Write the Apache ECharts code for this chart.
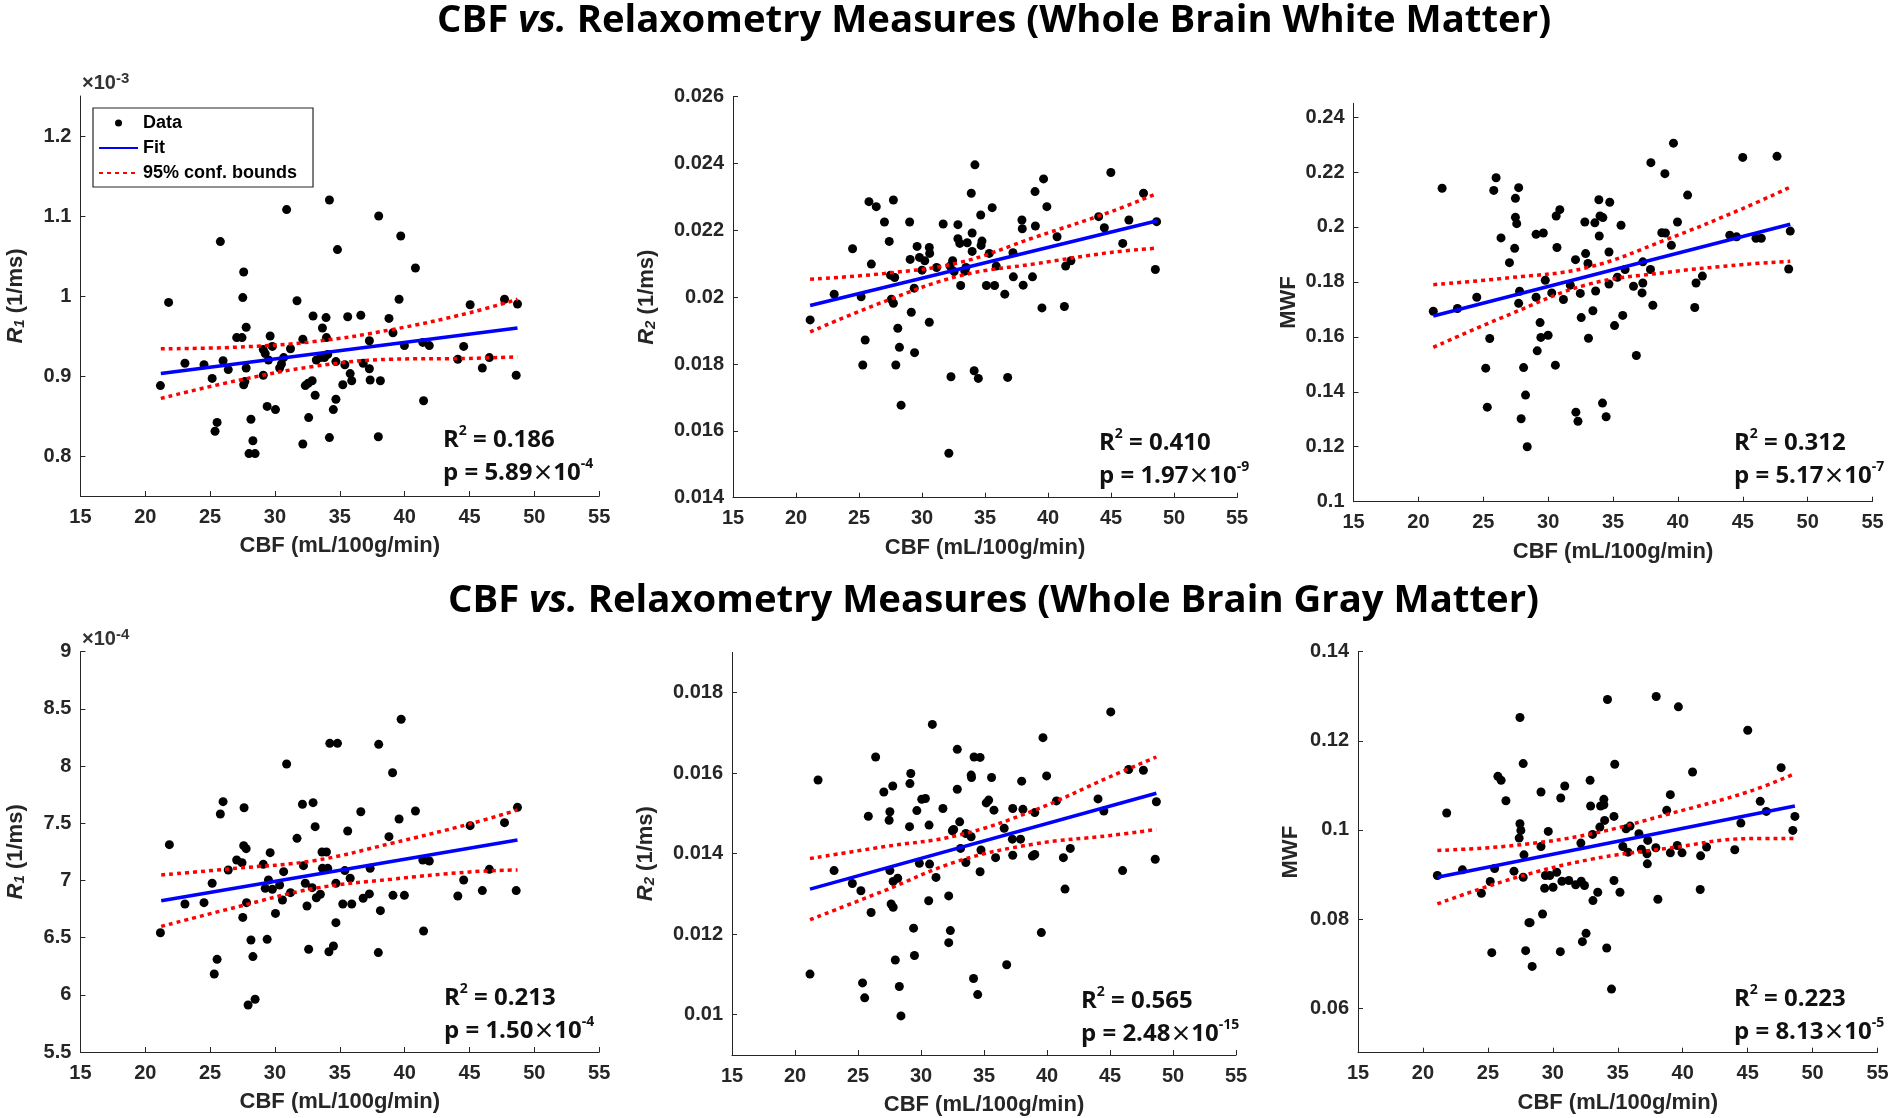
<!DOCTYPE html>
<html><head><meta charset="utf-8">
<script src="https://cdn.jsdelivr.net/npm/echarts@6.0.0/dist/echarts.min.js"></script>
<style>html,body{margin:0;padding:0;background:#fff}#c{width:1892px;height:1118px}</style>
</head><body><div id="c"></div><script>
// ---------- DATA ----------
const xTicks = [15, 20, 25, 30, 35, 40, 45, 50, 55];

// White matter R1 (x10^-3 1/ms)
const wmR1 = [[21.17,0.888],[21.8,0.992],[23.06,0.916],[24.53,0.914],[25.16,0.897],[25.38,0.831],[25.54,0.842],[25.79,1.068],[26.0,0.919],[26.4,0.908],[27.05,0.948],[27.46,0.948],[27.52,0.998],[27.59,1.03],[27.59,0.889],[27.68,0.893],[27.78,0.961],[27.78,0.91],[28.0,0.803],[28.15,0.846],[28.3,0.819],[28.47,0.803],[29.1,0.901],[29.1,0.933],[29.25,0.928],[29.4,0.862],[29.5,0.92],[29.63,0.95],[29.8,0.937],[30.04,0.858],[30.36,0.91],[30.5,0.915],[30.67,0.923],[30.9,1.108],[31.2,0.934],[31.7,0.994],[32.15,0.815],[32.15,0.946],[32.34,0.888],[32.56,0.891],[32.6,0.848],[32.87,0.894],[32.94,0.975],[33.1,0.876],[33.19,0.92],[33.5,0.923],[33.66,0.96],[33.82,0.923],[33.94,0.973],[33.97,0.948],[34.07,0.927],[34.2,0.823],[34.2,1.12],[34.5,0.858],[34.7,0.871],[34.7,0.918],[34.82,1.058],[35.23,0.889],[35.39,0.914],[35.61,0.974],[35.8,0.903],[35.92,0.894],[36.62,0.976],[36.8,0.916],[37.28,0.944],[37.28,0.909],[37.34,0.895],[37.97,0.824],[38.0,1.1],[38.13,0.894],[38.79,0.972],[39.1,0.954],[39.57,0.996],[39.7,1.075],[39.98,0.938],[40.83,1.035],[41.4,0.942],[41.46,0.869],[41.9,0.938],[44.1,0.921],[44.55,0.937],[45.05,0.989],[45.99,0.91],[46.53,0.923],[47.7,0.996],[48.6,0.901],[48.7,0.99]];
const wmR1Fit = [[21.2,0.903],[48.7,0.960]];
const wmR1Up = [[21.2,0.934],[27,0.936],[33,0.943],[39,0.958],[45,0.979],[48.7,0.996]];
const wmR1Lo = [[21.2,0.872],[27,0.894],[33,0.912],[39,0.921],[45,0.922],[48.7,0.924]];
const wmR1Ticks = [0.8, 0.9, 1.0, 1.1, 1.2];

// White matter R2
const wmR2 = [[21.12,0.01932],[23.03,0.02009],[24.49,0.02145],[25.17,0.02001],[25.3,0.01797],[25.49,0.01872],[25.79,0.02286],[25.98,0.02099],[26.37,0.02271],[27.02,0.02225],[27.4,0.02167],[27.5,0.02066],[27.57,0.01994],[27.73,0.02291],[27.73,0.01982],[27.83,0.02059],[27.92,0.01797],[28.08,0.01907],[28.21,0.0185],[28.34,0.01677],[29.02,0.02225],[29.06,0.02113],[29.15,0.01955],[29.38,0.02027],[29.41,0.01834],[29.61,0.02152],[29.8,0.02119],[30.0,0.02081],[30.22,0.02109],[30.58,0.02149],[30.61,0.02131],[30.58,0.01925],[31.16,0.02089],[31.68,0.02219],[32.13,0.01533],[32.23,0.02093],[32.3,0.01762],[32.43,0.02109],[32.55,0.02077],[32.85,0.02217],[32.85,0.02175],[33.0,0.02161],[33.07,0.02035],[33.4,0.02078],[33.49,0.02089],[33.59,0.02163],[33.91,0.02311],[33.98,0.02192],[33.98,0.02137],[34.14,0.0178],[34.2,0.02396],[34.47,0.01757],[34.66,0.02246],[34.69,0.02155],[34.76,0.02168],[35.11,0.02035],[35.34,0.02131],[35.57,0.02268],[35.76,0.02035],[35.89,0.02093],[36.57,0.02009],[36.8,0.0176],[37.22,0.02133],[37.25,0.02061],[37.93,0.02231],[37.96,0.02205],[38.03,0.02036],[38.77,0.02061],[38.97,0.02316],[39.0,0.02213],[39.52,0.01968],[39.65,0.02354],[39.91,0.02271],[40.72,0.02181],[41.3,0.01972],[41.4,0.02093],[41.82,0.02109],[44.02,0.02241],[44.47,0.02208],[44.99,0.02373],[45.93,0.02161],[46.42,0.02231],[47.58,0.02311],[48.52,0.02083],[48.62,0.02226]];
const wmR2Fit = [[21.12,0.01975],[48.68,0.02229]];
const wmR2Up = [[21.12,0.02054],[27,0.02071],[33,0.02104],[39,0.0218],[45,0.02256],[48.68,0.02311]];
const wmR2Lo = [[21.12,0.01896],[27,0.01987],[33,0.02064],[39,0.021],[45,0.02134],[48.68,0.02147]];
const wmR2Ticks = [0.014, 0.016, 0.018, 0.02, 0.022, 0.024, 0.026];

// White matter MWF
const wmMWF = [[21.15,0.1693],[21.83,0.2141],[23.01,0.1703],[24.5,0.1744],[25.19,0.1486],[25.31,0.1344],[25.5,0.1594],[25.81,0.2133],[25.99,0.2179],[26.37,0.196],[27.02,0.187],[27.42,0.1922],[27.48,0.2104],[27.48,0.2035],[27.58,0.2012],[27.73,0.2143],[27.73,0.1722],[27.8,0.1766],[27.92,0.1302],[28.11,0.1488],[28.26,0.1388],[28.39,0.12],[29.07,0.1973],[29.07,0.1744],[29.16,0.1549],[29.38,0.1652],[29.44,0.1598],[29.63,0.1978],[29.78,0.1806],[30.0,0.1606],[30.28,0.176],[30.56,0.1497],[30.62,0.204],[30.68,0.1925],[30.9,0.2063],[31.18,0.1736],[31.71,0.1788],[32.11,0.1881],[32.14,0.1326],[32.3,0.1293],[32.48,0.1758],[32.55,0.167],[32.83,0.2018],[32.89,0.1903],[33.07,0.1867],[33.11,0.1595],[33.45,0.1695],[33.6,0.2015],[33.66,0.1767],[33.91,0.2099],[33.94,0.1967],[34.0,0.204],[34.19,0.1359],[34.22,0.2034],[34.47,0.1309],[34.69,0.1909],[34.69,0.1792],[34.75,0.209],[35.12,0.1641],[35.34,0.1817],[35.62,0.2006],[35.75,0.1678],[35.93,0.1845],[36.58,0.1784],[36.8,0.1532],[37.24,0.176],[37.3,0.1796],[37.3,0.1873],[37.89,0.1845],[37.92,0.2234],[38.07,0.1715],[38.76,0.1979],[39.0,0.2194],[39.04,0.1978],[39.5,0.1933],[39.66,0.2305],[39.97,0.2018],[40.75,0.2116],[41.3,0.1707],[41.4,0.1796],[41.89,0.1821],[44.0,0.197],[44.53,0.1964],[45.0,0.2253],[46.02,0.1959],[46.43,0.1959],[47.64,0.2257],[48.54,0.1847],[48.66,0.1985]];
const wmMWFFit = [[21.15,0.1676],[48.66,0.201]];
const wmMWFUp = [[21.15,0.179],[27,0.1815],[33,0.1852],[39,0.1952],[45,0.2067],[48.66,0.2145]];
const wmMWFLo = [[21.15,0.1562],[27,0.1681],[33,0.179],[39,0.1834],[45,0.1863],[48.66,0.1875]];
const wmMWFTicks = [0.1, 0.12, 0.14, 0.16, 0.18, 0.2, 0.22, 0.24];

// Gray matter R1 (x10^-4 1/ms)
const gmR1 = [[21.17,6.543],[21.86,7.313],[23.06,6.794],[24.53,6.806],[25.16,6.975],[25.32,6.182],[25.54,6.31],[25.79,7.581],[26.0,7.689],[26.4,7.091],[27.05,7.179],[27.46,7.155],[27.52,6.677],[27.59,7.304],[27.62,7.636],[27.78,7.278],[27.81,6.806],[27.93,5.911],[28.15,6.479],[28.3,6.334],[28.47,5.961],[29.1,7.141],[29.25,6.931],[29.4,6.485],[29.5,7.004],[29.63,7.243],[29.8,6.922],[30.04,6.712],[30.36,6.96],[30.58,6.829],[30.67,7.077],[30.9,8.018],[31.2,6.893],[31.7,7.368],[32.12,7.666],[32.2,7.129],[32.34,6.975],[32.47,6.777],[32.6,6.398],[32.87,6.937],[32.94,7.68],[33.1,7.47],[33.19,6.849],[33.5,6.879],[33.63,7.249],[33.66,7.106],[33.97,7.249],[34.07,7.106],[34.16,6.377],[34.23,8.199],[34.51,6.427],[34.7,6.631],[34.7,6.975],[34.82,8.199],[35.23,6.794],[35.39,7.086],[35.61,7.432],[35.8,7.019],[35.92,6.794],[36.62,7.601],[36.8,6.844],[37.28,6.882],[37.34,7.106],[37.97,6.369],[38.0,8.19],[38.13,6.736],[38.79,7.383],[39.07,7.942],[39.1,6.87],[39.57,7.537],[39.73,8.409],[39.98,6.87],[40.83,7.607],[41.4,7.179],[41.46,6.558],[41.9,7.17],[44.1,6.864],[44.55,7.004],[45.05,7.479],[45.99,6.911],[46.53,7.097],[47.7,7.505],[48.6,6.911],[48.7,7.639]];
const gmR1Fit = [[21.23,6.823],[48.7,7.354]];
const gmR1Up = [[21.23,7.048],[27,7.106],[33,7.173],[39,7.325],[45,7.494],[48.7,7.616]];
const gmR1Lo = [[21.23,6.598],[27,6.766],[33,6.929],[39,7.011],[45,7.074],[48.7,7.092]];
const gmR1Ticks = [5.5, 6, 6.5, 7, 7.5, 8, 8.5, 9];

// Gray matter R2
const gmR2 = [[21.19,0.01101],[21.83,0.01583],[23.1,0.01358],[24.55,0.01326],[25.23,0.01308],[25.36,0.01079],[25.53,0.01042],[25.82,0.01493],[26.04,0.01254],[26.4,0.0164],[27.05,0.01553],[27.47,0.01483],[27.53,0.01504],[27.53,0.01358],[27.63,0.01275],[27.76,0.01568],[27.79,0.01267],[27.79,0.01331],[27.96,0.01136],[28.15,0.01339],[28.28,0.0107],[28.41,0.00997],[29.09,0.01467],[29.12,0.01574],[29.19,0.01599],[29.41,0.01215],[29.48,0.01147],[29.67,0.01507],[29.87,0.01376],[30.06,0.01535],[30.35,0.01537],[30.64,0.01471],[30.68,0.01374],[30.61,0.01283],[30.9,0.01721],[31.19,0.01341],[31.74,0.01512],[32.2,0.01295],[32.2,0.01179],[32.33,0.01209],[32.49,0.01457],[32.59,0.0146],[32.88,0.01659],[32.88,0.0156],[33.07,0.01479],[33.14,0.01413],[33.56,0.01378],[33.56,0.0145],[33.98,0.01442],[33.98,0.01595],[34.01,0.01589],[34.17,0.0109],[34.21,0.0164],[34.5,0.0105],[34.69,0.01639],[34.69,0.01355],[34.76,0.01409],[35.18,0.01526],[35.37,0.01533],[35.6,0.01589],[35.79,0.01508],[35.92,0.0139],[36.6,0.01463],[36.8,0.01124],[37.25,0.01436],[37.28,0.01512],[37.28,0.01396],[37.9,0.01436],[37.99,0.0158],[38.09,0.0151],[38.84,0.01394],[39.03,0.01398],[39.03,0.01502],[39.55,0.01204],[39.68,0.01688],[39.97,0.01593],[40.75,0.01531],[41.3,0.0139],[41.43,0.01312],[41.85,0.01413],[44.05,0.01536],[44.51,0.01506],[45.06,0.01752],[46.0,0.01358],[46.48,0.01609],[47.65,0.01607],[48.59,0.01386],[48.68,0.01529]];
const gmR2Fit = [[21.19,0.01312],[48.68,0.0155]];
const gmR2Up = [[21.19,0.01388],[27,0.01417],[33,0.01446],[39,0.01508],[45,0.01591],[48.68,0.0164]];
const gmR2Lo = [[21.19,0.01236],[27,0.01307],[33,0.01382],[39,0.01424],[45,0.01445],[48.68,0.0146]];
const gmR2Ticks = [0.01, 0.012, 0.014, 0.016, 0.018];

// Gray matter MWF
const gmMWF = [[21.11,0.08977],[21.83,0.10379],[23.04,0.09104],[24.5,0.08579],[25.18,0.08842],[25.3,0.07245],[25.52,0.09134],[25.77,0.11203],[26.02,0.11113],[26.39,0.10656],[27.01,0.09074],[27.47,0.12523],[27.47,0.10139],[27.54,0.09989],[27.41,0.09816],[27.78,0.09441],[27.72,0.11488],[27.72,0.08939],[27.91,0.0729],[28.16,0.07919],[28.25,0.07919],[28.41,0.06937],[29.09,0.10851],[29.09,0.09629],[29.21,0.08114],[29.37,0.08692],[29.43,0.08977],[29.65,0.09966],[29.77,0.08977],[30.02,0.08714],[30.3,0.09051],[30.58,0.07267],[30.61,0.10716],[30.7,0.08849],[30.92,0.10986],[31.23,0.08864],[31.76,0.08767],[32.16,0.09704],[32.19,0.08849],[32.28,0.07492],[32.44,0.08752],[32.56,0.07679],[32.87,0.11113],[32.91,0.10536],[33.06,0.09899],[33.09,0.08414],[33.46,0.08602],[33.62,0.10064],[33.68,0.10536],[33.93,0.10686],[33.93,0.10566],[33.99,0.10214],[34.15,0.0735],[34.21,0.12928],[34.52,0.06427],[34.71,0.10304],[34.71,0.08864],[34.77,0.11473],[35.17,0.08602],[35.39,0.09629],[35.64,0.10026],[35.79,0.09501],[35.95,0.10086],[36.63,0.09914],[36.82,0.09569],[37.25,0.09464],[37.28,0.09239],[37.31,0.09764],[37.93,0.09599],[37.96,0.12995],[38.09,0.08444],[38.77,0.10439],[39.05,0.10791],[39.05,0.09486],[39.58,0.09651],[39.67,0.12763],[39.95,0.09486],[40.76,0.11301],[41.38,0.09419],[41.35,0.08662],[41.84,0.09614],[44.01,0.09554],[44.48,0.10154],[45.01,0.12238],[45.97,0.10641],[46.44,0.10416],[47.58,0.11398],[48.48,0.09989],[48.64,0.10304]];
const gmMWFFit = [[21.11,0.08939],[48.64,0.10536]];
const gmMWFUp = [[21.11,0.09539],[27,0.09651],[33,0.09914],[39,0.10364],[45,0.10851],[48.64,0.11263]];
const gmMWFLo = [[21.11,0.08339],[27,0.08917],[33,0.09344],[39,0.09592],[45,0.09805],[48.64,0.09809]];
const gmMWFTicks = [0.06, 0.08, 0.1, 0.12, 0.14];

const statR2 = ['0.186', '0.410', '0.312', '0.213', '0.565', '0.223'];
const statP = [['5.89','-4'], ['1.97','-9'], ['5.17','-7'], ['1.50','-4'], ['2.48','-15'], ['8.13','-5']];

// ---------- LAYOUT / STYLE ----------
const AX = '#262626';
const F = 'Liberation Sans, Arial, sans-serif';
const TF = 'Open Sans, Noto Sans, sans-serif';

const panels = [
  {data: wmR1, fit: wmR1Fit, up: wmR1Up, lo: wmR1Lo, ticks: wmR1Ticks, yMin: 0.75, yMax: 1.25, yName: '{i|R}{sub|1} (1/ms)',
   grid: {left: 80.4, top: 96, width: 518.8, height: 400}, yGap: 53, stat: {left: 443, top: 424}},
  {data: wmR2, fit: wmR2Fit, up: wmR2Up, lo: wmR2Lo, ticks: wmR2Ticks, yMin: 0.014, yMax: 0.026, yName: '{i|R}{sub|2} (1/ms)',
   grid: {left: 733, top: 96.7, width: 504, height: 401}, yGap: 75, stat: {left: 1099, top: 427}},
  {data: wmMWF, fit: wmMWFFit, up: wmMWFUp, lo: wmMWFLo, ticks: wmMWFTicks, yMin: 0.1, yMax: 0.245, yName: 'MWF',
   grid: {left: 1353.5, top: 103.3, width: 519, height: 398.4}, yGap: 54, stat: {left: 1734, top: 427}},
  {data: gmR1, fit: gmR1Fit, up: gmR1Up, lo: gmR1Lo, ticks: gmR1Ticks, yMin: 5.5, yMax: 9, yName: '{i|R}{sub|1} (1/ms)',
   grid: {left: 80.4, top: 651.7, width: 518.8, height: 400.3}, yGap: 53, stat: {left: 444, top: 982}},
  {data: gmR2, fit: gmR2Fit, up: gmR2Up, lo: gmR2Lo, ticks: gmR2Ticks, yMin: 0.009, yMax: 0.019, yName: '{i|R}{sub|2} (1/ms)',
   grid: {left: 732, top: 652.3, width: 504, height: 402.7}, yGap: 75, stat: {left: 1081, top: 985}},
  {data: gmMWF, fit: gmMWFFit, up: gmMWFUp, lo: gmMWFLo, ticks: gmMWFTicks, yMin: 0.05, yMax: 0.14, yName: 'MWF',
   grid: {left: 1358, top: 651.7, width: 519.5, height: 401}, yGap: 56, stat: {left: 1734, top: 983}}
];

const fmt = v => String(parseFloat(Number(v).toFixed(5)));

const grid = [], xAxis = [], yAxis = [], series = [], title = [];
panels.forEach((p, i) => {
  grid.push(Object.assign({}, p.grid));
  xAxis.push({
    type: 'value', gridIndex: i, min: 15, max: 55, interval: 5,
    axisLine: {show: true, onZero: false, lineStyle: {color: AX, width: 1}},
    axisTick: {show: true, inside: true, length: 5, lineStyle: {color: AX}},
    axisLabel: {fontFamily: F, fontWeight: 'bold', fontSize: 20, color: AX, margin: 11},
    splitLine: {show: false},
    name: 'CBF (mL/100g/min)', nameLocation: 'middle', nameGap: 39,
    nameTextStyle: {fontFamily: F, fontWeight: 'bold', fontSize: 22, color: AX}
  });
  yAxis.push({
    type: 'value', gridIndex: i, min: p.yMin, max: p.yMax,
    axisLine: {show: true, onZero: false, lineStyle: {color: AX, width: 1}},
    axisTick: {show: true, inside: true, length: 5, lineStyle: {color: AX}, customValues: p.ticks},
    axisLabel: {fontFamily: F, fontWeight: 'bold', fontSize: 20, color: AX, margin: 9, customValues: p.ticks, formatter: fmt},
    splitLine: {show: false},
    name: p.yName, nameLocation: 'middle', nameRotate: 90, nameGap: p.yGap,
    nameTextStyle: {fontFamily: F, fontWeight: 'bold', fontSize: 22, color: AX,
      rich: {i: {fontFamily: F, fontStyle: 'italic', fontWeight: 'bold', fontSize: 22, color: AX},
             sub: {fontFamily: F, fontStyle: 'italic', fontWeight: 'bold', fontSize: 15, color: AX, verticalAlign: 'bottom'}}}
  });
  series.push({type: 'scatter', name: 'Data', xAxisIndex: i, yAxisIndex: i, data: p.data,
    symbol: 'circle', symbolSize: 9, itemStyle: {color: '#000', opacity: 1}, z: 2});
  series.push({type: 'line', name: 'Fit', xAxisIndex: i, yAxisIndex: i, data: p.fit, symbol: 'none',
    lineStyle: {color: '#0000ff', width: 3.5}, itemStyle: {color: 'rgba(0,0,0,0)'}, z: 4});
  [p.up, p.lo].forEach(b => series.push({type: 'line', name: '95% conf. bounds', xAxisIndex: i, yAxisIndex: i, data: b,
    symbol: 'none', smooth: 0.4, lineStyle: {color: '#ff0000', width: 3.5, type: [4, 4]}, itemStyle: {color: 'rgba(0,0,0,0)'}, z: 3}));
  title.push({
    left: p.stat.left, top: p.stat.top, padding: 0,
    text: '{n|R}{s|2}{n| = ' + statR2[i] + '}\n{n|p = ' + statP[i][0] + '}{x|×}{n|10}{s|' + statP[i][1] + '}',
    textStyle: {lineHeight: 33, rich: {
      n: {fontFamily: TF, fontWeight: 'bold', fontSize: 24, color: '#111', lineHeight: 33},
      s: {fontFamily: TF, fontWeight: 'bold', fontSize: 14, color: '#111', verticalAlign: 'top', lineHeight: 22},
      x: {fontFamily: 'DejaVu Sans', fontWeight: 'normal', fontSize: 25, color: '#111', lineHeight: 33}
    }}
  });
});

// main titles
const mainTitles = [
  {text: 'White Matter', left: 437, top: 2},
  {text: 'Gray Matter', left: 448, top: 582}
];
mainTitles.forEach(t => title.push({
  left: t.left, top: t.top, padding: 0,
  text: '{b|CBF }{i|vs.}{b| Relaxometry Measures (Whole Brain ' + t.text + ')}',
  textStyle: {rich: {
    b: {fontFamily: TF, fontWeight: 'bold', fontSize: 38.3, color: '#000'},
    i: {fontFamily: TF, fontWeight: 'bold', fontStyle: 'italic', fontSize: 38.3, color: '#000'}
  }}
}));
// exponent labels
[{left: 82, top: 71, e: '-3'}, {left: 82, top: 627, e: '-4'}].forEach(t => title.push({
  left: t.left, top: t.top, padding: 0,
  text: '{a|×10}{s|' + t.e + '}',
  textStyle: {fontSize: 20, rich: {
    a: {fontFamily: F, fontSize: 20, color: '#333', lineHeight: 24},
    s: {fontFamily: F, fontSize: 15, color: '#333', verticalAlign: 'top', lineHeight: 15}
  }}
}));

const chart = echarts.init(document.getElementById('c'), null, {renderer: 'canvas'});
chart.setOption({
  animation: false,
  backgroundColor: '#fff',
  title, grid, xAxis, yAxis, series,
  legend: {
    left: 93, top: 108, orient: 'vertical', padding: [6, 16, 5, 5], itemGap: 7,
    itemWidth: 39, itemHeight: 7, borderColor: AX, borderWidth: 1.2, backgroundColor: '#fff',
    textStyle: {fontFamily: F, fontWeight: 'bold', fontSize: 18, color: '#000'},
    data: ['Data', {name: 'Fit', itemStyle: {opacity: 0}}, {name: '95% conf. bounds', itemStyle: {opacity: 0}}]
  }
});
</script></body></html>
